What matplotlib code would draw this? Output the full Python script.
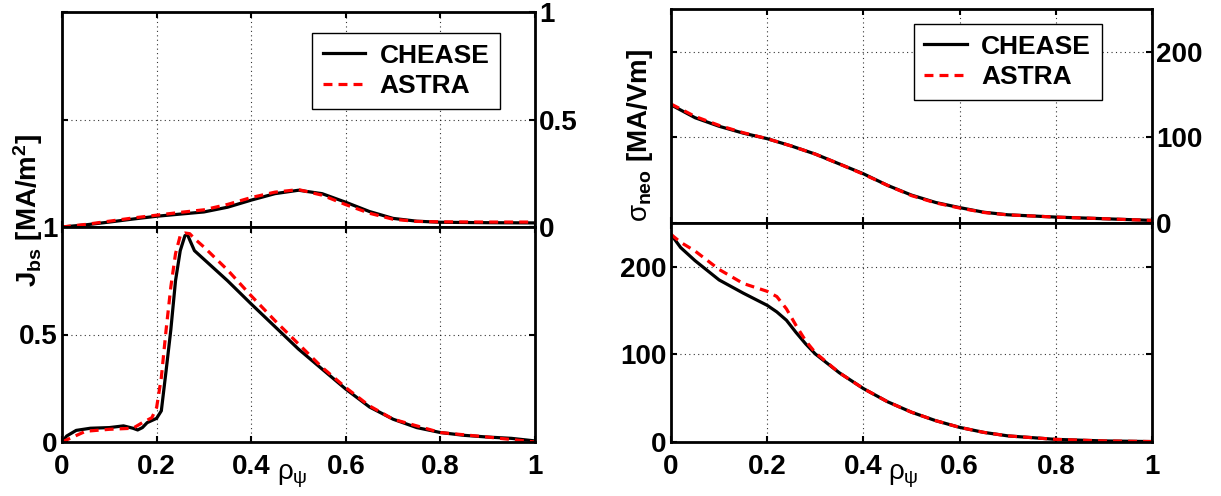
import matplotlib
matplotlib.use('Agg')
import matplotlib.pyplot as plt
import matplotlib.transforms as mtransforms

plt.rcParams['font.family'] = ['Liberation Sans', 'DejaVu Sans']
plt.rcParams['font.weight'] = 'bold'
plt.rcParams['mathtext.fontset'] = 'custom'
plt.rcParams['mathtext.rm'] = 'Liberation Sans:weight=bold'
plt.rcParams['mathtext.bf'] = 'Liberation Sans:weight=bold'
plt.rcParams['mathtext.it'] = 'Liberation Sans:weight=normal'
plt.rcParams['mathtext.default'] = 'it'

# ---------------- data ----------------
series_names = ['CHEASE', 'ASTRA']
xticks = [0, 0.2, 0.4, 0.6, 0.8, 1]
xticklabels = ['0', '0.2', '0.4', '0.6', '0.8', '1']
jbs_yticks = [0, 0.5, 1]
jbs_yticklabels = ['0', '0.5', '1']
sig_yticks = [0, 100, 200]
sig_yticklabels = ['0', '100', '200']

# top-left panel (J_bs, case 1)
rho_jtop = [0, 0.05, 0.1, 0.15, 0.2, 0.25, 0.3, 0.35, 0.4, 0.45, 0.5, 0.55,
            0.6, 0.65, 0.7, 0.75, 0.8, 0.9, 1.0]
jtop_chease = [0, 0.01, 0.023, 0.037, 0.05, 0.06, 0.07, 0.092, 0.125, 0.155,
               0.171, 0.155, 0.115, 0.072, 0.04, 0.027, 0.022, 0.02, 0.019]
jtop_astra = [0, 0.012, 0.027, 0.042, 0.055, 0.068, 0.08, 0.105, 0.137, 0.162,
              0.174, 0.148, 0.104, 0.064, 0.036, 0.026, 0.024, 0.023, 0.023]

# bottom-left panel (J_bs, case 2)
rho_jbot_chease = [0, 0.01, 0.03, 0.06, 0.1, 0.13, 0.15, 0.16, 0.17, 0.18, 0.2,
                   0.21, 0.22, 0.23, 0.24, 0.25, 0.26, 0.265, 0.27, 0.28, 0.3,
                   0.35, 0.4, 0.45, 0.5, 0.55, 0.6, 0.65, 0.7, 0.75, 0.8, 0.85,
                   0.9, 0.95, 1.0]
jbot_chease = [0, 0.028, 0.054, 0.064, 0.067, 0.075, 0.064, 0.056, 0.067, 0.09,
               0.11, 0.145, 0.33, 0.52, 0.75, 0.89, 0.96, 0.966, 0.94, 0.89,
               0.85, 0.75, 0.642, 0.537, 0.432, 0.339, 0.246, 0.163, 0.106,
               0.067, 0.044, 0.031, 0.023, 0.017, 0.005]
rho_jbot_astra = [0, 0.02, 0.05, 0.1, 0.15, 0.17, 0.19, 0.2, 0.21, 0.22, 0.23,
                  0.24, 0.25, 0.26, 0.27, 0.28, 0.3, 0.35, 0.4, 0.45, 0.5, 0.55,
                  0.6, 0.65, 0.7, 0.8, 0.9, 1.0]
jbot_astra = [0, 0.02, 0.05, 0.059, 0.064, 0.09, 0.113, 0.16, 0.30, 0.52, 0.72,
              0.876, 0.96, 0.972, 0.969, 0.946, 0.907, 0.80, 0.68, 0.565, 0.456,
              0.347, 0.253, 0.168, 0.106, 0.044, 0.023, 0.0]

# top-right panel (sigma_neo, case 1)
rho_stop = [0, 0.05, 0.1, 0.15, 0.2, 0.25, 0.3, 0.35, 0.4, 0.45, 0.5, 0.55,
            0.6, 0.65, 0.7, 0.8, 0.9, 1.0]
stop_chease = [138, 123, 113, 105, 98.5, 90, 80.5, 69, 57.5, 44, 32.6, 24, 18,
               12.6, 9.6, 6.9, 5, 3]
stop_astra = [139, 124.5, 114, 105.5, 98.5, 90, 80.5, 69, 57, 44, 32, 23.5, 17.5,
              12.3, 9.5, 6.9, 5, 3]

# bottom-right panel (sigma_neo, case 2)
rho_sbot = [0, 0.02, 0.05, 0.1, 0.15, 0.2, 0.22, 0.24, 0.26, 0.28, 0.3, 0.35,
            0.4, 0.45, 0.5, 0.55, 0.6, 0.65, 0.7, 0.8, 0.9, 1.0]
sbot_chease = [237, 222, 207, 185, 170, 156, 148.5, 139, 125, 112, 100.5, 79, 61,
               46, 34, 24.4, 16.7, 11, 7, 3, 1.2, 0.5]
sbot_astra = [237, 228, 218, 197, 181, 172, 166, 152, 133, 115.5, 102, 79, 61,
              46, 34, 24.4, 16.7, 11, 7, 3, 1.2, 0.5]

# ---------------- figure ----------------
W, H = 1221, 496
fig = plt.figure(figsize=(W / 100, H / 100), dpi=100)


def px_axes(x0, x1, y0, y1):
    return fig.add_axes([x0 / W, 1 - y1 / H, (x1 - x0) / W, (y1 - y0) / H])


ax_lt = px_axes(62, 535, 12, 227)
ax_lb = px_axes(62, 535, 227, 442)
ax_rt = px_axes(671, 1152, 9, 223)
ax_rb = px_axes(671, 1152, 223, 442)

LW = 2.3
red_ls = (0, (2.8, 1.9))


def style(ax, yticks, yticklabels, ylim, right, bottom_labels):
    ax.set_xlim(0, 1)
    ax.set_ylim(*ylim)
    ax.set_xticks(xticks)
    ax.set_yticks(yticks)
    ax.grid(True, color='k', linestyle=(0, (1, 3)), linewidth=0.8, alpha=0.8)
    for s in ax.spines.values():
        s.set_linewidth(2.0)
    ax.tick_params(direction='in', length=4, width=1.5, top=True, right=True,
                   labelsize=20, pad=3)
    ax.tick_params(axis='x', pad=9)
    if bottom_labels:
        ax.set_xticklabels(xticklabels, fontweight='bold')
    else:
        ax.set_xticklabels([])
    ax.set_yticklabels(yticklabels, fontweight='bold')
    if right:
        ax.tick_params(axis='y', labelleft=False, labelright=True)


def add_legend(ax, x, y):
    leg = ax.legend(series_names, loc='upper left', bbox_to_anchor=(x, y),
                    borderaxespad=0, frameon=True, fancybox=False,
                    edgecolor='k', framealpha=1, handlelength=1.6,
                    handletextpad=0.55, labelspacing=0.25, borderpad=0.4,
                    prop={'weight': 'bold', 'size': 19})
    leg.get_frame().set_linewidth(1.0)


# top-left
ax_lt.plot(rho_jtop, jtop_chease, color='k', lw=LW)
ax_lt.plot(rho_jtop, jtop_astra, color='red', lw=LW, linestyle=red_ls)
style(ax_lt, jbs_yticks, jbs_yticklabels, (0, 1), True, False)
add_legend(ax_lt, 0.529, 0.902)

# bottom-left
ax_lb.plot(rho_jbot_chease, jbot_chease, color='k', lw=LW)
ax_lb.plot(rho_jbot_astra, jbot_astra, color='red', lw=LW, linestyle=red_ls)
style(ax_lb, jbs_yticks, jbs_yticklabels, (0, 1), False, True)

# top-right
ax_rt.plot(rho_stop, stop_chease, color='k', lw=LW)
ax_rt.plot(rho_stop, stop_astra, color='red', lw=LW, linestyle=red_ls)
style(ax_rt, sig_yticks, sig_yticklabels, (0, 250), True, False)
add_legend(ax_rt, 0.505, 0.93)

# bottom-right
ax_rb.plot(rho_sbot, sbot_chease, color='k', lw=LW)
ax_rb.plot(rho_sbot, sbot_astra, color='red', lw=LW, linestyle=red_ls)
style(ax_rb, sig_yticks, sig_yticklabels, (0, 250), False, True)

# x labels (rho_psi), placed between tick labels like the original
for ax, xpos in ((ax_lb, 0.487), (ax_rb, 0.482)):
    tr = mtransforms.blended_transform_factory(ax.transData, ax.transAxes)
    ax.text(xpos, -0.095, r'$\rho_\psi$', transform=tr, ha='center', va='top',
            fontsize=20, fontweight='normal')

# y labels
fig.text(28 / W, 1 - 210 / H, r'$\mathbf{J_{bs}}$ [MA/m$^{\mathbf{2}}$]',
         rotation=90, ha='center', va='center', fontsize=20, fontweight='bold')
fig.text(640 / W, 1 - 135 / H, r'$\sigma_{\mathbf{neo}}$ [MA/Vm]',
         rotation=90, ha='center', va='center', fontsize=20, fontweight='bold')

fig.savefig('out.png', dpi=100)
